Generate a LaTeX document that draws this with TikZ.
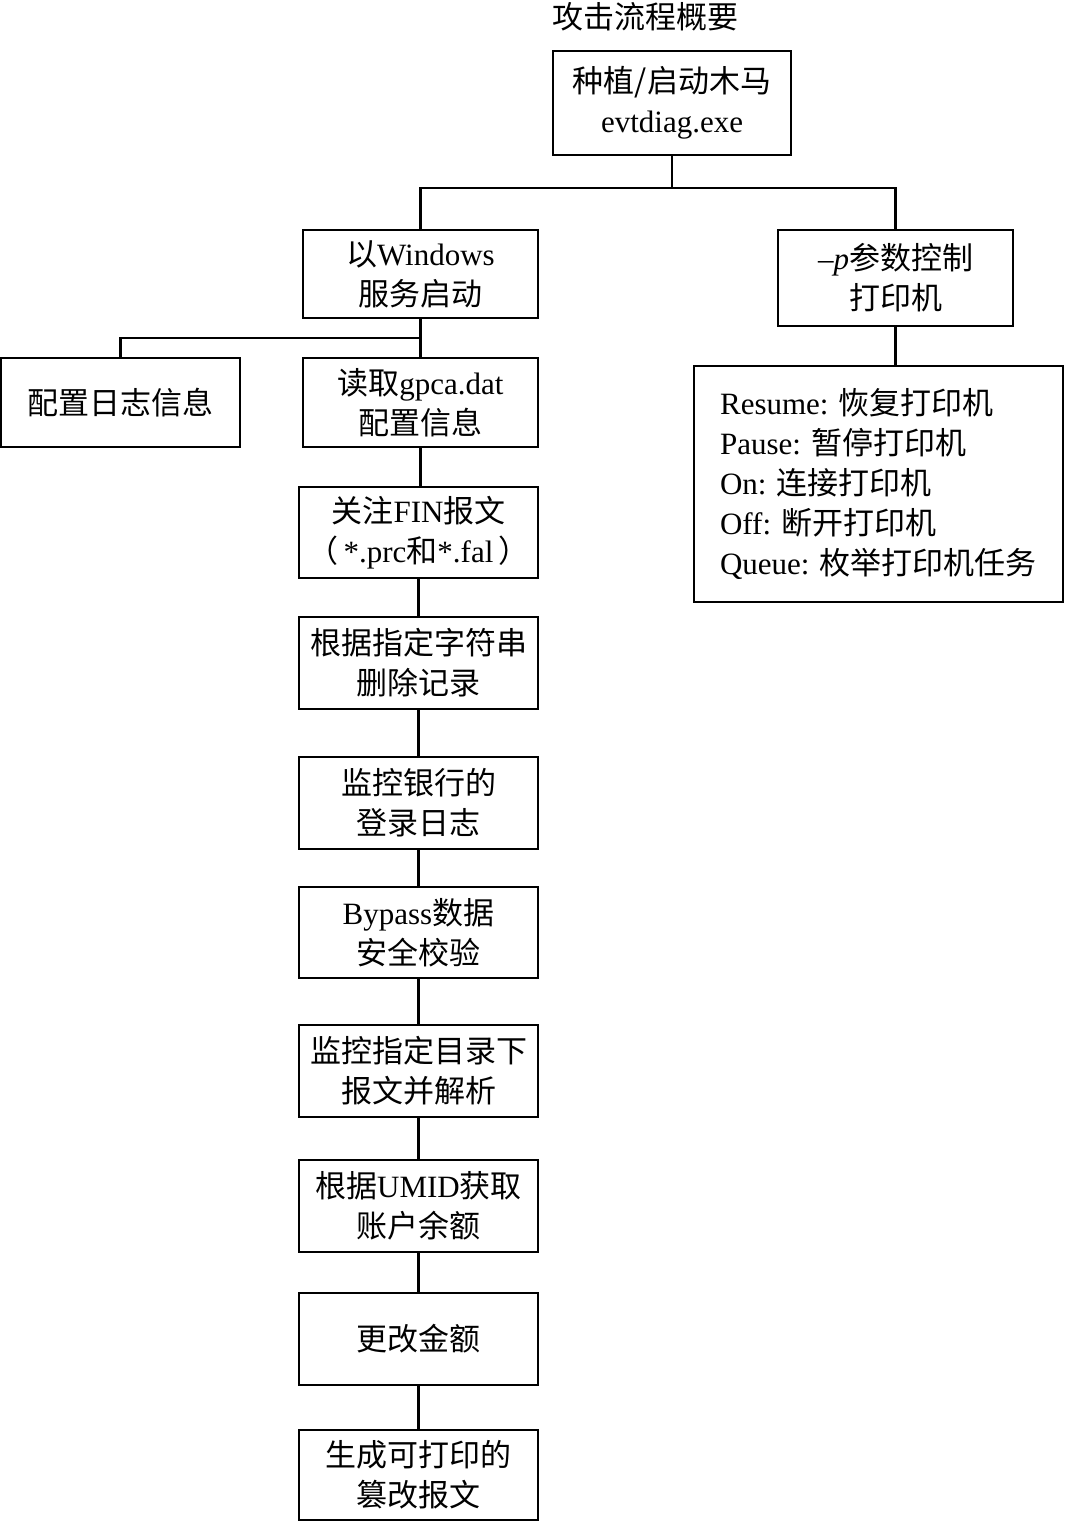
\documentclass[tikz,border=0pt]{standalone}
\usepackage{fontspec}
\setmainfont{Liberation Serif}
\newfontfamily\cjk{Noto Sans CJK SC}
\newcommand\zh[1]{{\cjk #1}}
\begin{document}
\begin{tikzpicture}[x=1pt,y=-1pt,
  box/.style={draw,line width=2.4pt,inner sep=0pt,align=center,
    font=\fontsize{31}{40}\selectfont},
  conn/.style={line width=2.4pt}]
\useasboundingbox (0,0) rectangle (1065,1522);
\node[font=\fontsize{31}{40}\selectfont] (title) at (645,17) {\zh{攻击流程概要}};
\node[box,minimum width=238pt,minimum height=104pt] (top) at (672,103) {\zh{种植/启动木马}\\evtdiag.exe};
\node[box,minimum width=235pt,minimum height=88pt] (win) at (420.5,274) {\zh{以}Windows\\\zh{服务启动}};
\node[box,minimum width=235pt,minimum height=96pt] (pp) at (895.5,278) {–\textit{p}\zh{参数控制}\\\zh{打印机}};
\node[box,minimum width=239pt,minimum height=89pt] (log) at (120.5,402.5) {\zh{配置日志信息}};
\node[box,minimum width=235pt,minimum height=89pt] (read) at (420.5,402.5) {\zh{读取}gpca.dat\\\zh{配置信息}};
\node[box,minimum width=369pt,minimum height=236pt,align=left] (list) at (878.5,484) {Resume: \zh{恢复打印机}\\Pause: \zh{暂停打印机}\\On: \zh{连接打印机}\\Off: \zh{断开打印机}\\Queue: \zh{枚举打印机任务}};
\node[box,minimum width=239pt,minimum height=91pt] (fin) at (418.5,532.5) {\zh{关注}FIN\zh{报文}\\\zh{（}\,*.prc\zh{和}*.fal\,\zh{）}};
\node[box,minimum width=239pt,minimum height=92pt] (del) at (418.5,663) {\zh{根据指定字符串}\\\zh{删除记录}};
\node[box,minimum width=239pt,minimum height=92pt] (mon) at (418.5,803) {\zh{监控银行的}\\\zh{登录日志}};
\node[box,minimum width=239pt,minimum height=91pt] (byp) at (418.5,932.5) {Bypass\zh{数据}\\\zh{安全校验}};
\node[box,minimum width=239pt,minimum height=92pt] (dir) at (418.5,1071) {\zh{监控指定目录下}\\\zh{报文并解析}};
\node[box,minimum width=239pt,minimum height=92pt] (umid) at (418.5,1206) {\zh{根据}UMID\zh{获取}\\\zh{账户余额}};
\node[box,minimum width=239pt,minimum height=92pt] (chg) at (418.5,1339) {\zh{更改金额}};
\node[box,minimum width=239pt,minimum height=90pt] (gen) at (418.5,1475) {\zh{生成可打印的}\\\zh{篡改报文}};
\coordinate (j1) at (top.south |- 0,188);
\coordinate (j2) at (win.south |- 0,338);
\draw[conn] (top.south) -- (j1);
\draw[conn] (j1) -| (win.north);
\draw[conn] (j1) -| (pp.north);
\draw[conn] (win.south) -- (j2);
\draw[conn] (j2) -| (log.north);
\draw[conn] (j2) -- (read.north);
\draw[conn] (pp.south) -- (pp.south |- list.north);
\draw[conn] (read.south) -- (read.south |- fin.north);
\draw[conn] (fin.south) -- (del.north);
\draw[conn] (del.south) -- (mon.north);
\draw[conn] (mon.south) -- (byp.north);
\draw[conn] (byp.south) -- (dir.north);
\draw[conn] (dir.south) -- (umid.north);
\draw[conn] (umid.south) -- (chg.north);
\draw[conn] (chg.south) -- (gen.north);
\end{tikzpicture}
\end{document}
